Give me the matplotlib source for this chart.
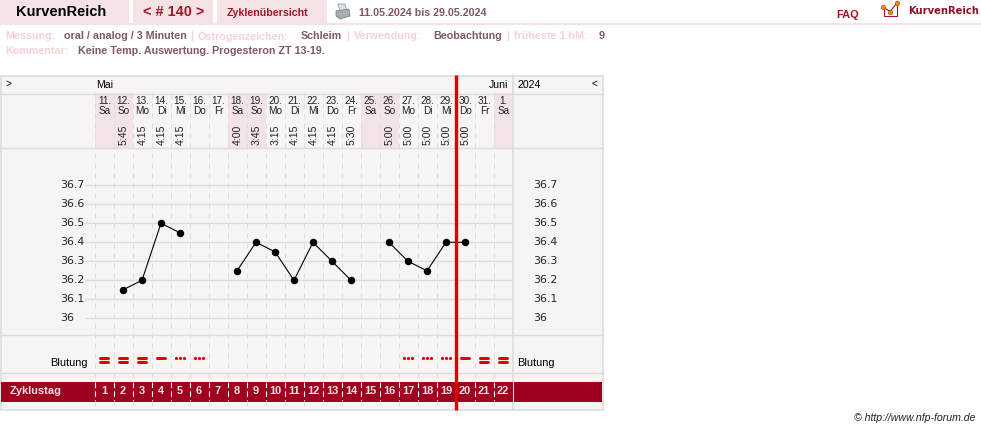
import numpy as np
import matplotlib
matplotlib.use('Agg')
import matplotlib.pyplot as plt
from matplotlib.patches import Rectangle, Polygon
from matplotlib.transforms import blended_transform_factory

plt.rcParams['font.family'] = ['Liberation Sans', 'DejaVu Sans']

dates = ['11.', '12.', '13.', '14.', '15.', '16.', '17.', '18.', '19.', '20.', '21.',
         '22.', '23.', '24.', '25.', '26.', '27.', '28.', '29.', '30.', '31.', '1.']
weekdays = ['Sa', 'So', 'Mo', 'Di', 'Mi', 'Do', 'Fr', 'Sa', 'So', 'Mo', 'Di',
            'Mi', 'Do', 'Fr', 'Sa', 'So', 'Mo', 'Di', 'Mi', 'Do', 'Fr', 'Sa']
times = ['', '5:45', '4:15', '4:15', '4:15', '', '', '4:00', '3:45', '3:15', '4:15',
         '4:15', '4:15', '5:30', '', '5:00', '5:00', '5:00', '5:00', '5:00', '', '']
temps = [None, 36.15, 36.2, 36.5, 36.45, None, None, 36.25, 36.4, 36.35, 36.2,
         36.4, 36.3, 36.2, None, 36.4, 36.3, 36.25, 36.4, 36.4, None, None]
bleeding = [3, 3, 3, 2, 1, 1, 0, 0, 0, 0, 0, 0, 0, 0, 0, 0, 1, 1, 1, 2, 3, 3]
temp_ticks = [36.7, 36.6, 36.5, 36.4, 36.3, 36.2, 36.1, 36]
temp_labels = ['36.7', '36.6', '36.5', '36.4', '36.3', '36.2', '36.1', '36']
days = np.arange(1, 23)

PINK = '#f3e3e5'
TABLE = '#f9f4f4'
GRID = '#dddddd'
WINE = '#9e0020'
RED = '#e00000'
VALUE = '#7f5a60'
LABEL = '#f6d2d5'
DASH = (0, (5, 5))


def px(n):
    return n * 0.72


def day_x(d):
    return 94.5 + 19 * (d - 0.5)


fig = plt.figure(figsize=(9.81, 4.30), dpi=100, facecolor='white')
bg = fig.add_axes([0, 0, 1, 1])
bg.set_xlim(0, 981)
bg.set_ylim(430, 0)
bg.axis('off')

# top bar
for x0, x1 in [(0, 129), (133, 213), (217, 327)]:
    bg.add_patch(Rectangle((x0, 0), x1 - x0, 23, fc=PINK, ec='none'))
bg.add_patch(Rectangle((0, 23), 981, 2, fc=PINK, ec='none'))
bg.text(16, 12.5, 'KurvenReich', fontsize=px(14.6), fontweight='bold', color='black', va='center')
bg.text(143, 12.5, '< # 140 >', fontsize=px(14.5), fontweight='bold', color='#a0182a', va='center')
bg.text(227, 12.5, 'Zyklenübersicht', fontsize=px(10.6), fontweight='bold', color='#a0182a', va='center')
bg.text(359, 12.5, '11.05.2024 bis 29.05.2024', fontsize=px(10.6), fontweight='bold', color=VALUE, va='center')
bg.text(836, 14.5, 'FAQ', fontsize=px(11), fontweight='bold', color='#a0182a', va='center')
bg.text(908, 10.5, 'KurvenReich', fontsize=px(10), fontweight='bold', color='#8e1028', va='center',
        family='DejaVu Sans')

# printer icon
bg.add_patch(Polygon([(338, 4), (345, 4), (347, 11), (340, 11)], fc='#d8e2ea', ec='#8a949c', lw=0.5))
bg.add_patch(Polygon([(336, 11), (349, 9), (350, 16), (340, 19), (336, 16)], fc='#a8aeb3', ec='#70767a', lw=0.5))

# logo
bg.plot([884, 884, 897, 897], [8, 16, 16, 6], color='#a0182a', lw=0.8)
bg.plot([883, 890, 897], [7, 11.5, 3], color='#a0182a', lw=0.8)
bg.plot([883, 890, 897], [7, 11.5, 3], 'o', ms=3.2, mfc='#f09000', mec='#b03020', mew=0.4)

# info lines
info1 = [(5, 'Messung:', LABEL), (64, 'oral / analog / 3 Minuten', VALUE), (190, '|', LABEL),
         (198, 'Östrogenzeichen:', LABEL), (301, 'Schleim', VALUE), (346, '|', LABEL),
         (354, 'Verwendung:', LABEL), (433, 'Beobachtung', VALUE), (506, '|', LABEL),
         (514, 'früheste 1.hM:', LABEL), (599, '9', VALUE)]
for x, s, c in info1:
    bg.text(x, 36, s, fontsize=px(10.7), fontweight='bold', color=c, va='center')
bg.text(5, 51, 'Kommentar:', fontsize=px(10.7), fontweight='bold', color=LABEL, va='center')
bg.text(78, 51, 'Keine Temp. Auswertung. Progesteron ZT 13-19.', fontsize=px(10.7), fontweight='bold',
        color=VALUE, va='center')

# table
bg.add_patch(Rectangle((0.5, 75.5), 602, 334.5, fc=TABLE, ec=GRID, lw=1.2, zorder=1))
for d, wd in zip(days, weekdays):
    if wd in ('Sa', 'So'):
        bg.add_patch(Rectangle((day_x(d) - 9.5, 93), 19, 55, fc=PINK, ec='none', zorder=1.1))
for y in [93.5, 148, 334.5, 372.5]:
    bg.plot([0.5, 602.5], [y, y], color=GRID, lw=1.0, zorder=1.2)
bg.plot([512.5, 512.5], [75, 410], color=GRID, lw=1.2, zorder=1.2)
bg.add_patch(Rectangle((1, 382), 601, 19.5, fc=WINE, ec='none', zorder=1.5))
bg.plot([512.5, 512.5], [382, 401], color='#e8dcdc', lw=0.8, zorder=1.6)

# day separators
for x in day_x(days) - 9.5:
    bg.plot([x, x], [93, 382], color=GRID, lw=0.72, ls=DASH, zorder=1.3)
    bg.plot([x, x], [382, 401], color='white', lw=0.8, ls=(0, (5, 3)), zorder=1.6)
    bg.plot([x, x], [401, 410], color=GRID, lw=0.72, ls=DASH, zorder=1.3)

# table head
bg.text(5, 83.5, '>', fontsize=px(10), color='black', va='center', zorder=3)
bg.text(96, 85.5, 'Mai', fontsize=px(10.5), color='black', va='center', zorder=3)
bg.text(489, 85.5, 'Juni', fontsize=px(10.5), color='black', va='center', zorder=3)
bg.text(517, 85.5, '2024', fontsize=px(10.5), color='black', va='center', zorder=3)
bg.text(592, 83.5, '<', fontsize=px(10), color='black', va='center', zorder=3)
for d, ds, wd, t in zip(days, dates, weekdays, times):
    x = day_x(d)
    bg.text(x + 0.5, 101.5, ds, fontsize=px(10), color='#222222', ha='center', va='center', zorder=3)
    bg.text(x + 0.5, 111.5, wd, fontsize=px(10), color='#222222', ha='center', va='center', zorder=3)
    if t:
        bg.text(x + 0.5, 145, t, fontsize=px(10.5), color='#222222', rotation=90, ha='center', va='bottom',
                zorder=3)

# temperature curve
ax = fig.add_axes([85 / 981, 1 - 334 / 430, (512.5 - 85) / 981, (334 - 148) / 430], zorder=2)
ax.patch.set_alpha(0)
ax.set_xlim(0, 22.5)
ax.set_ylim(36 - (334 - 318.3) / 190, 36 + (318.3 - 148) / 190)
ax.axis('off')
for t in temp_ticks:
    ax.axhline(t, color=GRID, lw=1.0, zorder=1)
trans = blended_transform_factory(bg.transData, ax.transData)
for t, lab in zip(temp_ticks, temp_labels):
    bg.text(60, t, lab, transform=trans, fontsize=px(11), family='DejaVu Sans', color='#222222', va='center', zorder=3)
    bg.text(533, t, lab, transform=trans, fontsize=px(11), family='DejaVu Sans', color='#222222', va='center', zorder=3)
temp_vals = np.array([np.nan if v is None else v for v in temps])
ax.plot(days, temp_vals, color='black', lw=px(1.1), marker='o', ms=px(7.5), mfc='black', mec='black', mew=0,
        zorder=3)

# bleeding row
bg.text(50, 363.5, 'Blutung', fontsize=px(11), color='black', va='center', zorder=3)
bg.text(517, 363.5, 'Blutung', fontsize=px(11), color='black', va='center', zorder=3)
for d, b in zip(days, bleeding):
    x = day_x(d)
    if b == 3:
        for y in (358.3, 362):
            bg.plot([x - 4, x + 4], [y, y], color=RED, lw=px(3), solid_capstyle='round', zorder=3)
    elif b == 2:
        bg.plot([x - 4, x + 4], [358.3, 358.3], color=RED, lw=px(3), solid_capstyle='round', zorder=3)
    elif b == 1:
        bg.plot([x - 4, x, x + 4], [358.3] * 3, 'o', color=RED, ms=px(3.2), mew=0, zorder=3)

# cycle day row
bg.text(10, 391, 'Zyklustag', fontsize=px(11), fontweight='bold', color='#f3e3e5', va='center', zorder=3)
for d in days:
    bg.text(day_x(d), 391, str(d), fontsize=px(11), fontweight='bold', color='#f3e3e5', ha='center',
            va='center', zorder=3)

# today marker, kept in the upper axes so the grid stays beneath it
ax.plot([455.5, 455.5], [75, 410], transform=bg.transData, color=RED, lw=px(3.4), solid_capstyle='butt',
        clip_on=False, zorder=4)

bg.text(976, 418, '© http://www.nfp-forum.de', fontsize=px(10.5), style='italic', color='#222222', ha='right',
        va='center')

fig.savefig('out.png', dpi=100)
